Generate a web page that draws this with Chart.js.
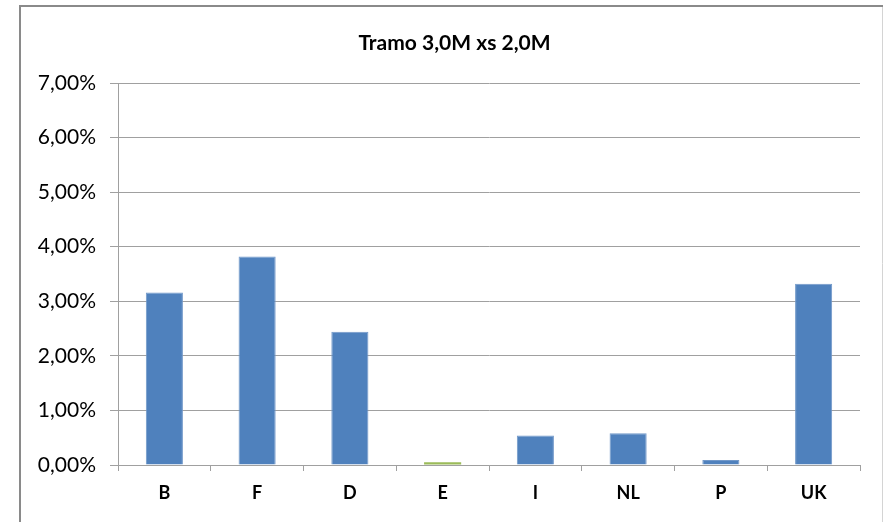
<!DOCTYPE html>
<html>
<head>
<meta charset="utf-8">
<script src="https://cdn.jsdelivr.net/npm/chart.js@4.4.1/dist/chart.umd.min.js"></script>
<style>
  html, body { margin: 0; padding: 0; background: #ffffff; }
  #wrap { width: 885px; height: 522px; position: relative; }
</style>
</head>
<body>
<div id="wrap"><canvas id="c" width="885" height="522"></canvas></div>
<script>
// Country codes along the x axis
const categories = ['B', 'F', 'D', 'E', 'I', 'NL', 'P', 'UK'];
// Rate per country, in percent
const values = [3.16, 3.82, 2.44, 0.05, 0.54, 0.58, 0.09, 3.32];
// Bar fill per country (Spain shown in green)
const barColors = ['#4F81BD', '#4F81BD', '#4F81BD', '#9BBB59', '#4F81BD', '#4F81BD', '#4F81BD', '#4F81BD'];
const barBorders = ['#7198C9', '#7198C9', '#7198C9', '#9BBB59', '#7198C9', '#7198C9', '#7198C9', '#7198C9'];
const barBorderWidths = [1, 1, 1, 0, 1, 1, 1, 1];
// Value axis ticks
const yTicks = [0, 1, 2, 3, 4, 5, 6, 7];
const chartTitle = 'Tramo 3,0M xs 2,0M';

const FONT = 'Lato, "Open Sans", sans-serif';

// Outer frame of the chart object and its title
const framePlugin = {
  id: 'frame',
  beforeDraw(chart) {
    const ctx = chart.ctx;
    ctx.save();
    ctx.fillStyle = '#ffffff';
    ctx.fillRect(0, 0, chart.width, chart.height);
    ctx.strokeStyle = '#d4d4d4';
    ctx.lineWidth = 1;
    ctx.beginPath();
    ctx.moveTo(882.5, 5);
    ctx.lineTo(882.5, chart.height);
    ctx.stroke();
    ctx.strokeStyle = '#8a8a8a';
    ctx.lineWidth = 2;
    ctx.beginPath();
    ctx.moveTo(20, chart.height);
    ctx.lineTo(20, 6);
    ctx.lineTo(883, 6);
    ctx.stroke();
    ctx.restore();
  },
  afterDraw(chart) {
    const ctx = chart.ctx;
    ctx.save();
    ctx.fillStyle = '#000000';
    ctx.font = 'bold 21px ' + FONT;
    ctx.textAlign = 'center';
    ctx.textBaseline = 'alphabetic';
    ctx.fillText(chartTitle, 454.5, 49.5);
    ctx.restore();
  }
};

new Chart(document.getElementById('c'), {
  type: 'bar',
  data: {
    labels: categories,
    datasets: [{
      data: values,
      backgroundColor: barColors,
      borderColor: barBorders,
      borderWidth: barBorderWidths,
      categoryPercentage: 1.0,
      barPercentage: 0.4
    }]
  },
  options: {
    responsive: false,
    animation: false,
    devicePixelRatio: 1,
    layout: { padding: { top: 83, right: 25, bottom: 0, left: 0 } },
    plugins: {
      legend: { display: false },
      title: { display: false },
      tooltip: { enabled: false }
    },
    scales: {
      x: {
        grid: {
          offset: true,
          drawOnChartArea: false,
          drawTicks: true,
          tickLength: 6,
          color: '#a0a0a0'
        },
        border: { display: true, color: '#a0a0a0' },
        ticks: {
          color: '#000000',
          font: { family: FONT, size: 18, weight: 'bold' },
          padding: 11
        },
        afterFit(scale) { scale.height = 57; }
      },
      y: {
        min: 0,
        max: 7,
        afterBuildTicks(scale) { scale.ticks = yTicks.map(v => ({ value: v })); },
        grid: {
          color: '#a0a0a0',
          tickLength: 8,
          lineWidth: 1
        },
        border: { display: true, color: '#a0a0a0' },
        ticks: {
          color: '#000000',
          font: { family: FONT, size: 21 },
          padding: 14,
          callback: v => v.toFixed(2).replace('.', ',') + '%'
        },
        afterFit(scale) { scale.width = 118; }
      }
    }
  },
  plugins: [framePlugin]
});
</script>
</body>
</html>
